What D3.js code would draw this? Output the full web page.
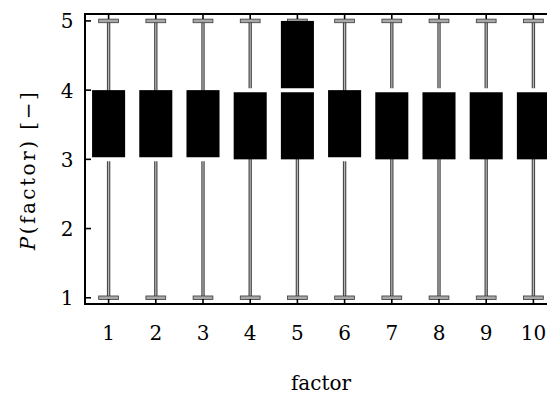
<!DOCTYPE html>
<html>
<head>
<meta charset="utf-8">
<script src="https://cdn.jsdelivr.net/npm/d3@7"></script>
<style>
  html, body { margin: 0; padding: 0; background: #fff; }
  svg { display: block; }
</style>
</head>
<body>
<script>
// Box plot summary for each factor
const factors   = [1, 2, 3, 4, 5, 6, 7, 8, 9, 10];
const whiskLow  = [1, 1, 1, 1, 1, 1, 1, 1, 1, 1];
const q1        = [3, 3, 3, 3, 3, 3, 3, 3, 3, 3];
const medians   = [3, 3, 3, 4, 4, 3, 4, 4, 4, 4];
const q3        = [4, 4, 4, 4, 5, 4, 4, 4, 4, 4];
const whiskHigh = [5, 5, 5, 5, 5, 5, 5, 5, 5, 5];
const yTicks    = [1, 2, 3, 4, 5];

const W = 547, H = 394;
const plot = { left: 85, right: 557, top: 14, bottom: 304 };
const FONT = "'DejaVu Serif', 'Liberation Serif', serif";

const svg = d3.select("body").append("svg").attr("width", W).attr("height", H)
  .style("font-family", FONT);

const x = d3.scaleLinear().domain([0.5, 10.5]).range([plot.left, plot.right]);
const y = d3.scaleLinear().domain([0.91, 5.1]).range([plot.bottom, plot.top]);

const boxW = x(0.7) - x(0);
const capW = x(0.42) - x(0);

const rows = factors.map((f, i) => ({
  f, lo: whiskLow[i], q1: q1[i], med: medians[i], q3: q3[i], hi: whiskHigh[i]
}));

const g = svg.append("g");

// whiskers: dark outline with a light core
g.selectAll("line.wo").data(rows).join("line")
  .attr("x1", d => x(d.f)).attr("x2", d => x(d.f))
  .attr("y1", d => y(d.lo)).attr("y2", d => y(d.hi))
  .attr("stroke", "#4a4a4a").attr("stroke-width", 3.4);
g.selectAll("line.wi").data(rows).join("line")
  .attr("x1", d => x(d.f)).attr("x2", d => x(d.f))
  .attr("y1", d => y(d.lo)).attr("y2", d => y(d.hi))
  .attr("stroke", "#bcbcbc").attr("stroke-width", 1.1);

// whisker caps
["lo", "hi"].forEach(k => {
  g.selectAll("rect.cap-" + k).data(rows).join("rect")
    .attr("x", d => x(d.f) - capW / 2)
    .attr("y", d => y(d[k]) - 1.8)
    .attr("width", capW).attr("height", 3.6)
    .attr("fill", "#a8a8a8").attr("stroke", "#3a3a3a").attr("stroke-width", 0.8);
});

// boxes
g.selectAll("rect.box").data(rows).join("rect")
  .attr("x", d => x(d.f) - boxW / 2)
  .attr("y", d => y(d.q3))
  .attr("width", boxW)
  .attr("height", d => y(d.q1) - y(d.q3))
  .attr("fill", "#000");

// median lines
g.selectAll("line.med").data(rows).join("line")
  .attr("x1", d => x(d.f) - boxW / 2 - 1).attr("x2", d => x(d.f) + boxW / 2 + 1)
  .attr("y1", d => y(d.med)).attr("y2", d => y(d.med))
  .attr("stroke", "#fff").attr("stroke-width", 4);

// frame
svg.append("rect")
  .attr("x", plot.left).attr("y", plot.top)
  .attr("width", plot.right - plot.left).attr("height", plot.bottom - plot.top)
  .attr("fill", "none").attr("stroke", "#000").attr("stroke-width", 2);

// inward ticks
const tickLen = 6;
svg.selectAll("line.yt").data(yTicks).join("line")
  .attr("x1", plot.left).attr("x2", plot.left + tickLen)
  .attr("y1", d => y(d)).attr("y2", d => y(d))
  .attr("stroke", "#000").attr("stroke-width", 1.6);
svg.selectAll("line.xb").data(factors).join("line")
  .attr("x1", d => x(d)).attr("x2", d => x(d))
  .attr("y1", plot.bottom).attr("y2", plot.bottom - 5)
  .attr("stroke", "#000").attr("stroke-width", 1.6);
svg.selectAll("line.xt").data(factors).join("line")
  .attr("x1", d => x(d)).attr("x2", d => x(d))
  .attr("y1", plot.top).attr("y2", plot.top + 5)
  .attr("stroke", "#000").attr("stroke-width", 1.6);

// tick labels
svg.selectAll("text.yl").data(yTicks).join("text")
  .attr("x", 67).attr("y", d => y(d) + 7.5)
  .attr("text-anchor", "middle")
  .attr("font-size", 20)
  .text(d => d);
svg.selectAll("text.xl").data(factors).join("text")
  .attr("x", d => x(d)).attr("y", 340)
  .attr("text-anchor", "middle")
  .attr("font-size", 20)
  .text(d => d);

// axis titles
svg.append("text")
  .attr("x", (plot.left + plot.right) / 2).attr("y", 390)
  .attr("text-anchor", "middle")
  .attr("font-size", 20)
  .text("factor");

const yt = svg.append("text")
  .attr("transform", "translate(35,170) rotate(-90)")
  .attr("text-anchor", "middle")
  .attr("font-size", 20)
  .attr("letter-spacing", 2.5);
yt.append("tspan").attr("font-style", "italic").text("P");
yt.append("tspan").text("(factor) [\u2212]");
</script>
</body>
</html>
